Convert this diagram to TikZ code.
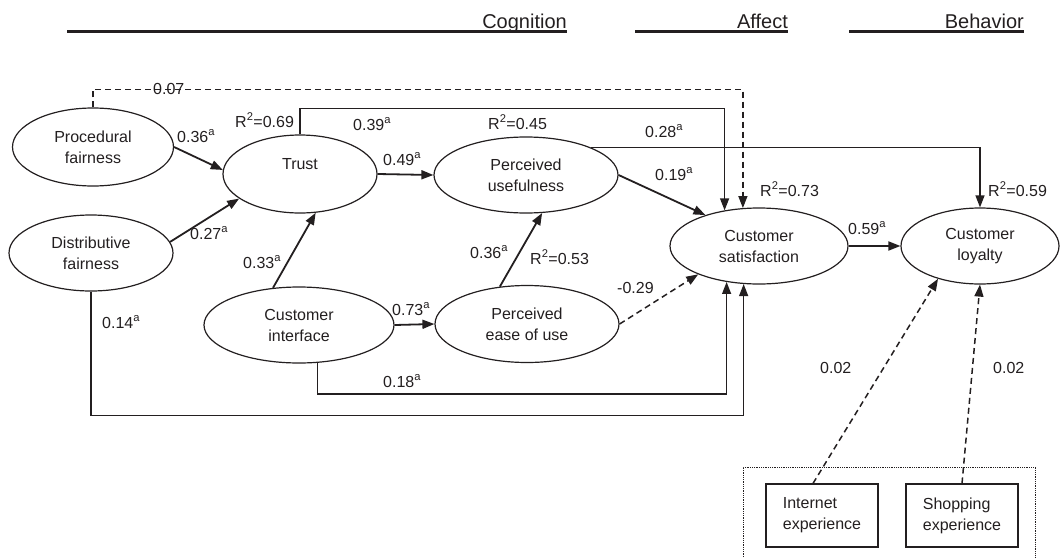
\documentclass[tikz,border=0pt]{standalone}
\usepackage{fontspec}
\setmainfont{Liberation Sans}
\usetikzlibrary{arrows.meta,positioning,calc,shapes.geometric}
\definecolor{ink}{HTML}{231F20}
\newcommand{\sigc}[1]{#1\textsuperscript{a}}
\newcommand{\rsq}[1]{R\textsuperscript{2}=#1}

\begin{document}
\begin{tikzpicture}[x=1pt,y=-1pt,>={Triangle[length=12pt,width=9pt]},
  construct/.style={ellipse,draw=ink,line width=1.2pt,inner sep=0pt,align=center,
    text=ink,font=\fontsize{16}{21}\selectfont},
  ctrl/.style={rectangle,draw=ink,line width=1.1pt,inner sep=0pt,minimum width=112pt,
    minimum height=63pt,align=left,text=ink,font=\fontsize{16}{21}\selectfont},
  coef/.style={anchor=base west,inner sep=0pt,text=ink,font=\fontsize{16}{19}\selectfont},
  head/.style={anchor=base east,inner sep=0pt,text=ink,font=\fontsize{20}{24}\selectfont},
  rule/.style={draw=ink,line width=3pt},
  effect/.style={draw=ink,line width=1.8pt,->},
  elbow/.style={draw=ink,line width=1.3pt,->},
  nsig/.style={draw=ink,line width=1.5pt,->,dash pattern=on 6pt off 4pt}]
 \useasboundingbox (0,0) rectangle (1060,557);

 % stage headings
 \node[head] (hcog) at (567,28) {Cognition};
 \node[head] (haff) at (788,28) {Affect};
 \node[head] (hbeh) at (1024,28) {Behavior};
 \draw[rule] (67,31) -- (567,31);
 \draw[rule] (635,31) -- (788,31);
 \draw[rule] (849,31) -- (1024,31);

 % constructs
 \node[construct,minimum width=161pt,minimum height=78pt] (pf) at (93,147) {Procedural\\fairness};
 \node[construct,minimum width=164pt,minimum height=76pt] (df) at (91,253) {Distributive\\fairness};
 \node[construct,minimum width=154pt,minimum height=78pt] (trust) at (300,174) {Trust\\\mbox{}};
 \node[construct,minimum width=184pt,minimum height=76pt] (pu) at (526,175) {Perceived\\usefulness};
 \node[construct,minimum width=190pt,minimum height=76pt] (ci) at (299,325) {Customer\\interface};
 \node[construct,minimum width=184pt,minimum height=77pt] (peou) at (527,324) {Perceived\\ease of use};
 \node[construct,minimum width=178pt,minimum height=76pt] (sat) at (759,246) {Customer\\satisfaction};
 \node[construct,minimum width=158pt,minimum height=76pt] (loy) at (980,246) {Customer\\loyalty};

 % control variables
 \draw[ink,densely dotted,line width=0.8pt] (743,557) |- (1035,467) -- (1035,557);
 \node[ctrl] (ie) at (822,515.5) {Internet\\experience};
 \node[ctrl] (se) at (962,515.5) {Shopping\\experience};

 % paths
 \draw[effect] (pf.east) -- (trust.177);
 \draw[effect] (df.8) -- (trust.202);
 \draw[effect] (ci.125) -- (trust.-68);
 \draw[effect] (trust.east) -- (pu.west);
 \draw[effect] (ci.east) -- (peou.west);
 \draw[effect] (peou.126) -- (pu.-67);
 \draw[effect] (pu.east) -- (sat.150);
 \draw[nsig] (peou.east) -- (sat.205);
 \draw[effect] (sat.east) -- (loy.west);
 \draw[elbow] (trust.north) -- ++(0,-26) -| (sat.134);
 \draw[nsig] (pf.north) -- ++(0,-18) -| (sat.113);
 \draw[elbow] (pu.23) -| (loy.north);
 \draw[elbow] (ci.-64) -- ++(0,31) -| (sat.-132);
 \draw[elbow] (df.south) -- ++(0,124) -| (sat.-112);
 \draw[nsig] ([xshift=-9pt]ie.north) -- (loy.-142);
 \draw[nsig] (se.north) -- (loy.south);

 % coefficients
 \node[coef] (c1) at (177,142) {\sigc{0.36}};
 \node[coef] (c2) at (190,239) {\sigc{0.27}};
 \node[coef] (c3) at (243,268) {\sigc{0.33}};
 \node[coef] (c4) at (353,130) {\sigc{0.39}};
 \node[coef] (c5) at (383,165) {\sigc{0.49}};
 \node[coef] (c6) at (645,137) {\sigc{0.28}};
 \node[coef] (c7) at (655,180) {\sigc{0.19}};
 \node[coef] (c8) at (470,258) {\sigc{0.36}};
 \node[coef] (c9) at (392,315) {\sigc{0.73}};
 \node[coef] (c10) at (617,293) {-0.29};
 \node[coef] (c11) at (383,387) {\sigc{0.18}};
 \node[coef] (c12) at (102,328) {\sigc{0.14}};
 \node[coef] (c13) at (848,234) {\sigc{0.59}};
 \node[coef] (c14) at (153,94) {0.07};
 \node[coef] (c15) at (820,373) {0.02};
 \node[coef] (c16) at (993,373) {0.02};

 % explained variance
 \node[coef] (r1) at (235,127) {\rsq{0.69}};
 \node[coef] (r2) at (488,129) {\rsq{0.45}};
 \node[coef] (r3) at (530,264) {\rsq{0.53}};
 \node[coef] (r4) at (760,196) {\rsq{0.73}};
 \node[coef] (r5) at (988,196) {\rsq{0.59}};
\end{tikzpicture}
\end{document}
